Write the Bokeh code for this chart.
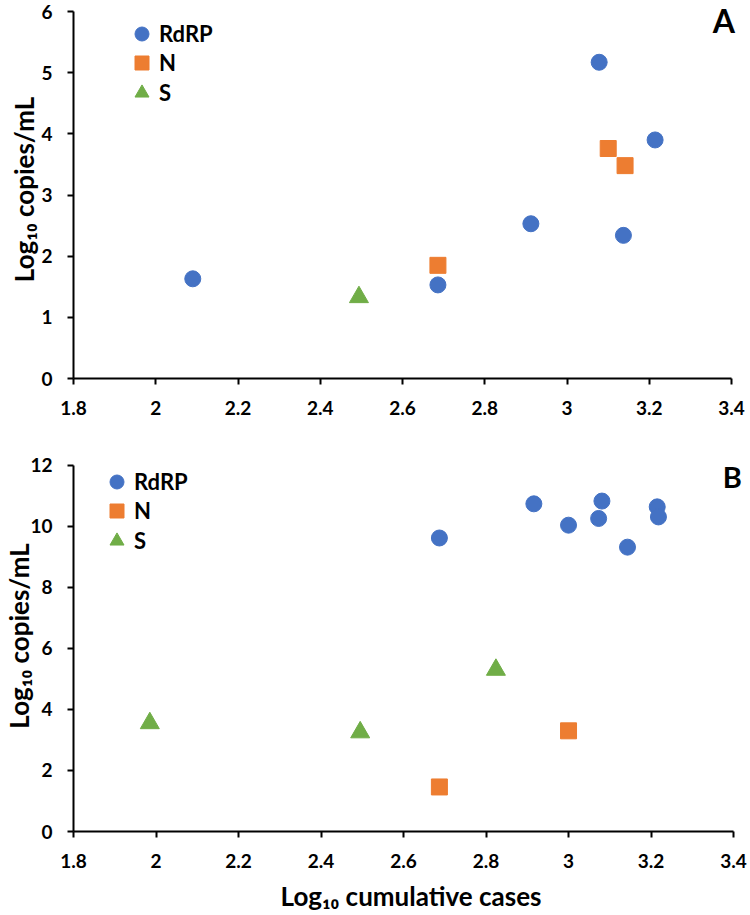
from bokeh.plotting import figure
from bokeh.layouts import column
from bokeh.models import Legend, LegendItem, Label, FixedTicker, Range1d
from bokeh.embed import file_html
from bokeh.resources import INLINE

# ---- data ----
x_ticks = [1.8, 2.0, 2.2, 2.4, 2.6, 2.8, 3.0, 3.2, 3.4]
x_tick_labels = ["1.8", "2", "2.2", "2.4", "2.6", "2.8", "3", "3.2", "3.4"]
y_ticks_a = [0, 1, 2, 3, 4, 5, 6]
y_ticks_b = [0, 2, 4, 6, 8, 10, 12]
series_names = ["RdRP", "N", "S"]

rdrp_a_x = [2.090, 2.686, 2.912, 3.078, 3.137, 3.214]
rdrp_a_y = [1.63, 1.53, 2.53, 5.17, 2.34, 3.90]
n_a_x = [2.686, 3.100, 3.141]
n_a_y = [1.85, 3.76, 3.48]
s_a_x = [2.494]
s_a_y = [1.33]

rdrp_b_x = [2.687, 2.916, 3.000, 3.073, 3.081, 3.143, 3.215, 3.218]
rdrp_b_y = [9.62, 10.74, 10.04, 10.26, 10.83, 9.32, 10.64, 10.31]
n_b_x = [2.687, 3.000]
n_b_y = [1.46, 3.30]
s_b_x = [1.985, 2.495, 2.824]
s_b_y = [3.55, 3.25, 5.30]

BLUE = "#4472C4"
ORANGE = "#ED7D31"
GREEN = "#70AD47"
FONT = "Lato"

W = 748  # figure width (px)


def style_axes(p, x_end, y_end, ymax, yticks, show_xlabel, y_als):
    p.x_range = Range1d(1.8, x_end)
    p.y_range = Range1d(0, y_end)
    p.xgrid.visible = False
    p.ygrid.visible = False
    p.outline_line_color = None
    for ax in (p.xaxis[0], p.yaxis[0]):
        ax.axis_line_width = 2
        ax.axis_line_color = "black"
        ax.major_tick_line_width = 2
        ax.major_tick_line_color = "black"
        ax.major_tick_in = 0
        ax.major_tick_out = 6
        ax.minor_tick_line_color = None
        ax.major_label_text_font = FONT
        ax.major_label_text_font_style = "bold"
        ax.major_label_text_font_size = "19px"
        ax.major_label_text_color = "black"
        ax.axis_label_text_font = FONT
        ax.axis_label_text_font_style = "bold"
        ax.axis_label_text_font_size = "26px"
        ax.axis_label_text_color = "black"
    p.xaxis[0].bounds = (1.8, 3.4)
    p.yaxis[0].bounds = (0, ymax)
    p.xaxis[0].ticker = FixedTicker(ticks=x_ticks)
    p.xaxis[0].major_label_overrides = {t: l for t, l in zip(x_ticks, x_tick_labels)}
    p.xaxis[0].major_label_standoff = 16
    p.yaxis[0].ticker = FixedTicker(ticks=yticks)
    p.yaxis[0].major_label_standoff = 15
    p.yaxis[0].axis_label = "Log\u2081\u2080 copies/mL"
    p.yaxis[0].axis_label_standoff = y_als
    if show_xlabel:
        p.xaxis[0].axis_label = "Log\u2081\u2080 cumulative cases"
        p.xaxis[0].axis_label_standoff = 9


def add_points(p, rx, ry, nx, ny, sx, sy):
    r1 = p.scatter(rx, ry, marker="circle", size=16, fill_color=BLUE, line_color=BLUE)
    r2 = p.scatter(nx, ny, marker="square", size=16, fill_color=ORANGE, line_color=ORANGE)
    r3 = p.scatter(sx, sy, marker="triangle", size=19, fill_color=GREEN, line_color=GREEN)
    return r1, r2, r3


def add_legends(p, rends, locs):
    # one small legend per entry so the row pitch can be set freely
    for name, r, loc in zip(series_names, rends, locs):
        lg = Legend(items=[LegendItem(label=name, renderers=[r])], location=loc,
                    margin=0, padding=0, glyph_width=35, glyph_height=35,
                    label_height=20, spacing=0, label_standoff=-3,
                    background_fill_alpha=0, border_line_alpha=0,
                    label_text_font=FONT, label_text_font_style="bold",
                    label_text_font_size="22px", label_text_color="black")
        p.add_layout(lg)


# ---- panel A ----  figure at page y 0..440; axis x: 1.8 @69px, 3.4 @731px; y: 0 @378px, 6 @11px
a_ppx = (731 - 69) / 1.6
a_ppy = (378 - 11) / 6
pa = figure(width=W, height=440, output_backend="svg", toolbar_location=None,
            min_border_left=69, min_border_top=0, min_border_right=0, min_border_bottom=62)
style_axes(pa, 3.4 + (W - 731) / a_ppx, 6 + 11 / a_ppy, 6, y_ticks_a, False, -2)
ra = add_points(pa, rdrp_a_x, rdrp_a_y, n_a_x, n_a_y, s_a_x, s_a_y)
add_legends(pa, ra, [(51, 327), (51, 298), (51, 268)])
pa.add_layout(Label(x=3.381, y=5.853, text="A", text_font=FONT, text_font_style="bold",
                    text_font_size="32px", text_align="center", text_baseline="middle",
                    text_color="black"))

# ---- panel B ----  figure at page y 440..914; axis x: 1.8 @72px, 3.4 @733px; y: 0 @833px, 12 @465px
b_ppx = (733 - 72) / 1.6
b_ppy = (833 - 465) / 12
pb = figure(width=W, height=474, output_backend="svg", toolbar_location=None,
            min_border_left=72, min_border_top=0, min_border_right=0, min_border_bottom=81)
style_axes(pb, 3.4 + (W - 733) / b_ppx, 12 + 25 / b_ppy, 12, y_ticks_b, True, -8)
rb = add_points(pb, rdrp_b_x, rdrp_b_y, n_b_x, n_b_y, s_b_x, s_b_y)
add_legends(pb, rb, [(26, 332), (26, 303), (26, 273)])
pb.add_layout(Label(x=3.397, y=11.62, text="B", text_font=FONT, text_font_style="bold",
                    text_font_size="29px", text_align="center", text_baseline="middle",
                    text_color="black"))

layout = column(pa, pb, spacing=0)
open("out.html", "w").write(file_html(layout, INLINE))
